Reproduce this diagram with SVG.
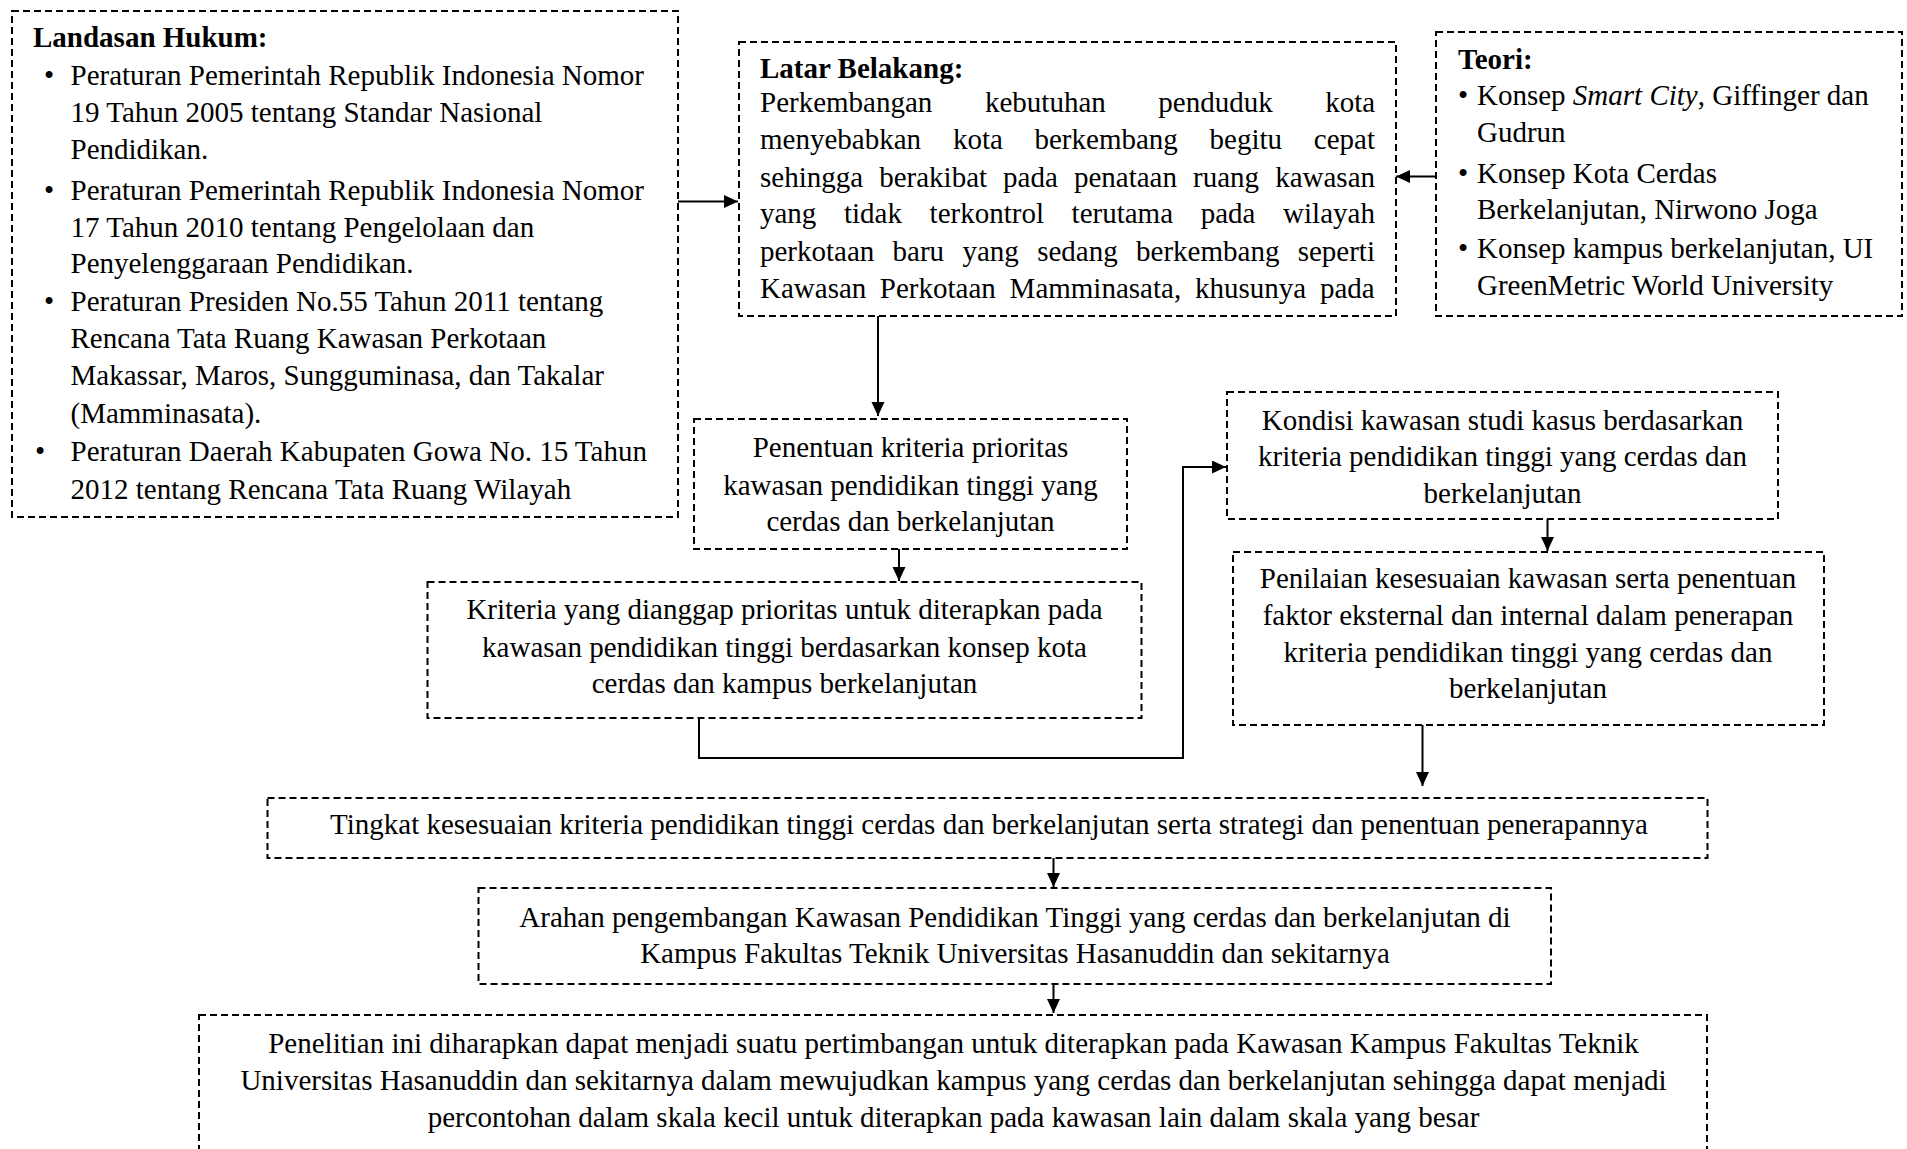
<svg xmlns="http://www.w3.org/2000/svg" width="1907" height="1149" viewBox="0 0 1907 1149">
<style>
  .box { fill: #ffffff; stroke: #000000; stroke-width: 2; stroke-dasharray: 7 4; }
  .t { font-family: "Liberation Serif", "Times New Roman", serif; font-size: 29px; fill: #000000; }
  .c { text-anchor: middle; }
  .b { font-weight: bold; }
  .i { font-style: italic; }
  .conn { fill: none; stroke: #000000; stroke-width: 2; }
</style>
<defs>
  <marker id="arr" markerUnits="userSpaceOnUse" markerWidth="16" markerHeight="14" refX="14" refY="6.5" orient="auto">
    <path d="M0,0 L14,6.5 L0,13 Z" fill="#000000"/>
  </marker>
</defs>
<rect width="1907" height="1149" fill="#ffffff"/>

<g id="landasan">
  <rect class="box" x="12" y="11" width="666" height="506"/>
  <text class="t b" x="33" y="47">Landasan Hukum:</text>
  <text class="t" x="44" y="85">•</text>
  <text class="t" x="70.5" y="85">Peraturan Pemerintah Republik Indonesia Nomor</text>
  <text class="t" x="70.5" y="122">19 Tahun 2005 tentang Standar Nasional</text>
  <text class="t" x="70.5" y="159">Pendidikan.</text>
  <text class="t" x="44" y="199.5">•</text>
  <text class="t" x="70.5" y="199.5">Peraturan Pemerintah Republik Indonesia Nomor</text>
  <text class="t" x="70.5" y="236.5">17 Tahun 2010 tentang Pengelolaan dan</text>
  <text class="t" x="70.5" y="273">Penyelenggaraan Pendidikan.</text>
  <text class="t" x="44" y="311">•</text>
  <text class="t" x="70.5" y="311">Peraturan Presiden No.55 Tahun 2011 tentang</text>
  <text class="t" x="70.5" y="348">Rencana Tata Ruang Kawasan Perkotaan</text>
  <text class="t" x="70.5" y="385">Makassar, Maros, Sungguminasa, dan Takalar</text>
  <text class="t" x="70.5" y="422.5">(Mamminasata).</text>
  <text class="t" x="35" y="461">•</text>
  <text class="t" x="70.5" y="461">Peraturan Daerah Kabupaten Gowa No. 15 Tahun</text>
  <text class="t" x="70.5" y="498.5">2012 tentang Rencana Tata Ruang Wilayah</text>
</g>

<g id="latar">
  <rect class="box" x="739" y="42" width="657" height="274"/>
  <text class="t b" x="760" y="78">Latar Belakang:</text>
  <text class="t" y="111.7"><tspan x="760">Perkembangan</tspan><tspan x="985">kebutuhan</tspan><tspan x="1158.3">penduduk</tspan><tspan x="1325.2">kota</tspan></text>
  <text class="t" y="149"><tspan x="760">menyebabkan</tspan><tspan x="952.9">kota</tspan><tspan x="1034.5">berkembang</tspan><tspan x="1209.6">begitu</tspan><tspan x="1313.8">cepat</tspan></text>
  <text class="t" y="186.7"><tspan x="760">sehingga</tspan><tspan x="879.2">berakibat</tspan><tspan x="1003.1">pada</tspan><tspan x="1073.9">penataan</tspan><tspan x="1193.1">ruang</tspan><tspan x="1275.2">kawasan</tspan></text>
  <text class="t" y="223.3"><tspan x="760">yang</tspan><tspan x="844">tidak</tspan><tspan x="929.6">terkontrol</tspan><tspan x="1071.6">terutama</tspan><tspan x="1200.7">pada</tspan><tspan x="1283.1">wilayah</tspan></text>
  <text class="t" y="261"><tspan x="760">perkotaan</tspan><tspan x="892.6">baru</tspan><tspan x="962.5">yang</tspan><tspan x="1037.2">sedang</tspan><tspan x="1136.1">berkembang</tspan><tspan x="1297.7">seperti</tspan></text>
  <text class="t" y="298.3"><tspan x="760">Kawasan</tspan><tspan x="879.8">Perkotaan</tspan><tspan x="1009.6">Mamminasata,</tspan><tspan x="1195">khusunya</tspan><tspan x="1320">pada</tspan></text>
</g>

<g id="teori">
  <rect class="box" x="1436" y="32" width="466" height="284"/>
  <text class="t b" x="1458" y="69">Teori:</text>
  <text class="t" x="1458" y="105">•</text>
  <text class="t" x="1477" y="105">Konsep <tspan class="i">Smart City</tspan>, Giffinger dan</text>
  <text class="t" x="1477" y="141.7">Gudrun</text>
  <text class="t" x="1458" y="182.7">•</text>
  <text class="t" x="1477" y="182.7">Konsep Kota Cerdas</text>
  <text class="t" x="1477" y="219.3">Berkelanjutan, Nirwono Joga</text>
  <text class="t" x="1458" y="258.3">•</text>
  <text class="t" x="1477" y="258.3">Konsep kampus berkelanjutan, UI</text>
  <text class="t" x="1477" y="295">GreenMetric World University</text>
</g>

<g id="penentuan">
  <rect class="box" x="694" y="419" width="433" height="130"/>
  <text class="t c" x="910.5" y="457">Penentuan kriteria prioritas</text>
  <text class="t c" x="910.5" y="495">kawasan pendidikan tinggi yang</text>
  <text class="t c" x="910.5" y="531">cerdas dan berkelanjutan</text>
</g>

<g id="kriteria">
  <rect class="box" x="427.5" y="582" width="714" height="136"/>
  <text class="t c" x="784.5" y="619">Kriteria yang dianggap prioritas untuk diterapkan pada</text>
  <text class="t c" x="784.5" y="657">kawasan pendidikan tinggi berdasarkan konsep kota</text>
  <text class="t c" x="784.5" y="693">cerdas dan kampus berkelanjutan</text>
</g>

<g id="kondisi">
  <rect class="box" x="1227" y="392" width="551" height="127"/>
  <text class="t c" x="1502.5" y="430">Kondisi kawasan studi kasus berdasarkan</text>
  <text class="t c" x="1502.5" y="466">kriteria pendidikan tinggi yang cerdas dan</text>
  <text class="t c" x="1502.5" y="503">berkelanjutan</text>
</g>

<g id="penilaian">
  <rect class="box" x="1233" y="552" width="591" height="173"/>
  <text class="t c" x="1528" y="588">Penilaian kesesuaian kawasan serta penentuan</text>
  <text class="t c" x="1528" y="625">faktor eksternal dan internal dalam penerapan</text>
  <text class="t c" x="1528" y="662">kriteria pendidikan tinggi yang cerdas dan</text>
  <text class="t c" x="1528" y="698">berkelanjutan</text>
</g>

<g id="tingkat">
  <rect class="box" x="267.5" y="798" width="1440" height="60"/>
  <text class="t c" x="989" y="834">Tingkat kesesuaian kriteria pendidikan tinggi cerdas dan berkelanjutan serta strategi dan penentuan penerapannya</text>
</g>

<g id="arahan">
  <rect class="box" x="478.5" y="888" width="1072.5" height="96"/>
  <text class="t c" x="1015" y="927">Arahan pengembangan Kawasan Pendidikan Tinggi yang cerdas dan berkelanjutan di</text>
  <text class="t c" x="1015" y="963">Kampus Fakultas Teknik Universitas Hasanuddin dan sekitarnya</text>
</g>

<g id="penelitian">
  <rect class="box" x="199" y="1015" width="1508" height="150"/>
  <text class="t c" x="953.5" y="1053">Penelitian ini diharapkan dapat menjadi suatu pertimbangan untuk diterapkan pada Kawasan Kampus Fakultas Teknik</text>
  <text class="t c" x="953.5" y="1090">Universitas Hasanuddin dan sekitarnya dalam mewujudkan kampus yang cerdas dan berkelanjutan sehingga dapat menjadi</text>
  <text class="t c" x="953.5" y="1127">percontohan dalam skala kecil untuk diterapkan pada kawasan lain dalam skala yang besar</text>
</g>

<g id="connectors">
  <path class="conn" d="M678,201.5 H738" marker-end="url(#arr)"/>
  <path class="conn" d="M1436,176.5 H1396" marker-end="url(#arr)"/>
  <path class="conn" d="M878,316 V416" marker-end="url(#arr)"/>
  <path class="conn" d="M899,549 V581" marker-end="url(#arr)"/>
  <path class="conn" d="M699,718 V758 H1183 V467 H1226" marker-end="url(#arr)"/>
  <path class="conn" d="M1547.5,519 V551" marker-end="url(#arr)"/>
  <path class="conn" d="M1422.5,725 V786" marker-end="url(#arr)"/>
  <path class="conn" d="M1053.5,858 V887" marker-end="url(#arr)"/>
  <path class="conn" d="M1053.5,984 V1013" marker-end="url(#arr)"/>
</g>
</svg>
